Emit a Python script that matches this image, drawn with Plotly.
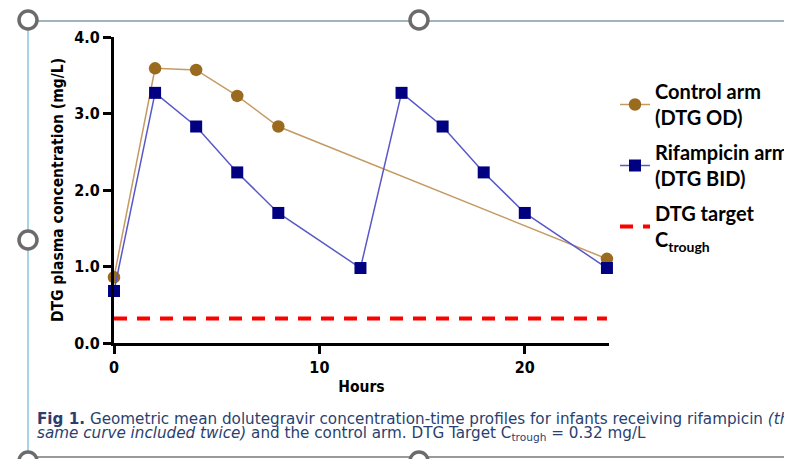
import plotly.graph_objects as go

# ---- data ----
control_hours = [0, 2, 4, 6, 8, 24]
control_conc = [0.86, 3.59, 3.57, 3.23, 2.83, 1.10]

rif_hours = [0, 2, 4, 6, 8, 12, 14, 16, 18, 20, 24]
rif_conc = [0.68, 3.27, 2.83, 2.23, 1.70, 0.98, 3.27, 2.83, 2.23, 1.70, 0.98]

target_hours = [0, 24]
target_conc = [0.32, 0.32]

x_ticks = [0, 10, 20]
y_ticks = [0.0, 1.0, 2.0, 3.0, 4.0]

# ---- layout geometry (pixels in the browser window; page body has 8px margin) ----
OFF = 8
W, H = 792 - OFF, 459 - OFF
ML, MR, MT, MB = 114 - OFF, 792 - 609, 37 - OFF, 459 - 343
PW = W - ML - MR
PH = H - MT - MB


def px(xp):
    return (xp - OFF - ML) / PW


def py(yp):
    return (H - MB - (yp - OFF)) / PH


AXFONT = "DejaVu Sans Condensed, Open Sans, sans-serif"

fig = go.Figure()

fig.add_trace(go.Scatter(
    x=target_hours, y=target_conc, mode="lines",
    name="<b>DTG target<br>C<sub>trough</sub></b>", legendgroup="c", legendrank=3,
    line=dict(color="#ff0000", width=4, dash="13px,10px"),
))
fig.add_trace(go.Scatter(
    x=control_hours, y=control_conc, mode="lines+markers",
    name="<b>Control arm<br>(DTG OD)</b>", legendgroup="a", legendrank=1,
    line=dict(color="#c49a63", width=1.5),
    marker=dict(symbol="circle", size=12.5, color="#9a6a1e"),
    cliponaxis=False,
))
fig.add_trace(go.Scatter(
    x=rif_hours, y=rif_conc, mode="lines+markers",
    name="<b>Rifampicin arm<br>(DTG BID)</b>", legendgroup="b", legendrank=2,
    line=dict(color="#5858c8", width=1.5),
    marker=dict(symbol="square", size=12, color="#000080"),
    cliponaxis=False,
))

fig.update_layout(
    width=W, height=H,
    margin=dict(l=ML, r=MR, t=MT, b=MB, autoexpand=False),
    paper_bgcolor="white", plot_bgcolor="white",
    showlegend=True,
    legend=dict(
        x=px(615), y=py(72), xanchor="left", yanchor="top",
        font=dict(family="Lato", size=20, color="black"),
        traceorder="grouped", tracegroupgap=6,
        bgcolor="rgba(0,0,0,0)",
    ),
    xaxis=dict(
        range=[0, 24.1], tickvals=x_ticks, ticktext=[f"<b>{v}</b>" for v in x_ticks],
        showgrid=False, zeroline=False,
        showline=True, linecolor="black", linewidth=3,
        ticks="outside", ticklen=8, tickwidth=2.5, tickcolor="black",
        tickfont=dict(family=AXFONT, size=16, color="black"),
        title=dict(text="<b>Hours</b>", font=dict(family=AXFONT, size=15.5, color="black"), standoff=5),
    ),
    yaxis=dict(
        range=[0, 4], tickvals=y_ticks, ticktext=[f"<b>{v:.1f}</b>" for v in y_ticks],
        showgrid=False, zeroline=False,
        showline=True, linecolor="black", linewidth=3,
        ticks="outside", ticklen=8, tickwidth=2.5, tickcolor="black",
        tickfont=dict(family=AXFONT, size=16, color="black"),
        title=dict(text="<b>DTG plasma concentration (mg/L)</b>",
                   font=dict(family=AXFONT, size=15.5, color="black"), standoff=7),
    ),
)

# ---- caption ----
cap_color = "#2a3f6f"
fig.add_annotation(
    xref="paper", yref="paper", x=px(35), y=py(419), xanchor="left", yanchor="middle",
    text="<b>Fig 1.</b> Geometric mean dolutegravir concentration-time profiles for infants receiving rifampicin <i>(the</i>",
    showarrow=False, font=dict(family="DejaVu Sans", size=15.2, color=cap_color),
)
fig.add_annotation(
    xref="paper", yref="paper", x=px(35), y=py(434), xanchor="left", yanchor="middle",
    text="<i>same curve included twice)</i> and the control arm. DTG Target C<sub>trough</sub> = 0.32 mg/L",
    showarrow=False, font=dict(family="DejaVu Sans", size=15.2, color=cap_color),
)

# ---- frame and selection handles (decoration) ----
fig.add_shape(type="line", xref="paper", yref="paper", x0=px(28), x1=px(800), y0=py(21), y1=py(21),
              line=dict(color="#9fb4bf", width=2), layer="below")
fig.add_shape(type="line", xref="paper", yref="paper", x0=px(28), x1=px(800), y0=py(457), y1=py(457),
              line=dict(color="#9a9a9a", width=2), layer="below")
fig.add_shape(type="line", xref="paper", yref="paper", x0=px(28), x1=px(28), y0=py(21), y1=py(458),
              line=dict(color="#a6d4e4", width=2), layer="below")
for hx, hy in [(28, 20), (419, 20), (28, 240), (28, 461), (419, 461)]:
    r = 9
    fig.add_shape(type="circle", xref="paper", yref="paper",
                  x0=px(hx - r), x1=px(hx + r), y0=py(hy + r), y1=py(hy - r),
                  line=dict(color="#6b6b6b", width=3.5), fillcolor="white")

fig.write_html("out.html")
